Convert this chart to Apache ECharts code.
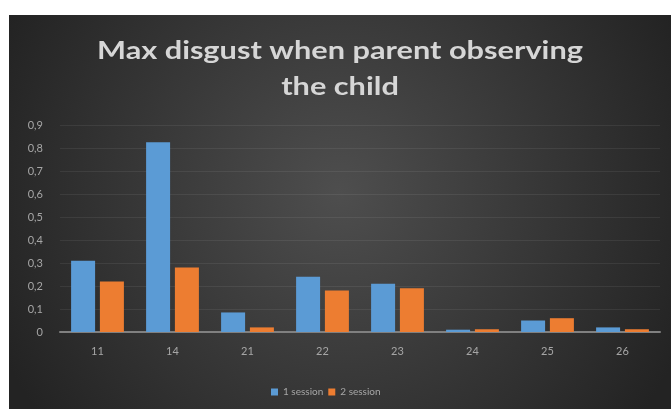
<!DOCTYPE html>
<html>
<head>
<meta charset="utf-8">
<script src="https://cdn.jsdelivr.net/npm/echarts@6/dist/echarts.min.js"></script>
<style>
  html, body { margin: 0; padding: 0; background: #ffffff; }
  #chart { width: 671px; height: 409px; }
</style>
</head>
<body>
<div id="chart"></div>
<script>
// Participants (x axis) and the maximum disgust score per session
const participants = ['11', '14', '21', '22', '23', '24', '25', '26'];
const session1 = [0.31, 0.825, 0.085, 0.24, 0.21, 0.01, 0.05, 0.02];
const session2 = [0.22, 0.28, 0.02, 0.18, 0.19, 0.012, 0.06, 0.012];
const seriesNames = ['1 session', '2 session'];
const yTicks = { min: 0, max: 0.9, step: 0.1 };

const chart = echarts.init(document.getElementById('chart'), null, { renderer: 'canvas' });

const labelFont = 'Lato, "Open Sans", sans-serif';

chart.setOption({
  animation: false,
  backgroundColor: '#ffffff',
  graphic: [
    {
      type: 'rect',
      z: -10,
      silent: true,
      shape: { x: 9, y: 15, width: 662, height: 394 },
      style: {
        fill: {
          type: 'radial', x: 0.5, y: 0.45, r: 0.95,
          colorStops: [
            { offset: 0, color: '#4e4e4e' },
            { offset: 1, color: '#232323' }
          ]
        }
      }
    },
    {
      type: 'text',
      x: 340, y: 33,
      originX: 0,
      scaleX: 1.28,
      z: 10,
      silent: true,
      style: {
        text: 'Max disgust when parent observing\nthe child',
        fill: '#d6d6d6',
        font: 'bold 24px ' + labelFont,
        textAlign: 'center',
        textVerticalAlign: 'top',
        lineHeight: 36
      }
    }
  ],
  legend: {
    data: seriesNames,
    left: 266,
    top: 382,
    itemWidth: 7,
    itemHeight: 7,
    itemGap: 5,
    icon: 'rect',
    textStyle: { color: '#a6a6a6', fontSize: 10, fontFamily: labelFont }
  },
  grid: { left: 60, right: 11, top: 125, bottom: 77, containLabel: false },
  xAxis: {
    type: 'category',
    data: participants,
    axisLine: { lineStyle: { color: '#808080', width: 2 } },
    axisTick: { show: false },
    axisLabel: { color: '#a6a6a6', fontSize: 11, fontFamily: labelFont, margin: 14 }
  },
  yAxis: {
    type: 'value',
    min: yTicks.min,
    max: yTicks.max,
    interval: yTicks.step,
    axisLine: { show: false },
    axisTick: { show: false },
    axisLabel: {
      color: '#a6a6a6', fontSize: 11, fontFamily: labelFont, margin: 17,
      formatter: v => (Math.round(v * 10) / 10).toString().replace('.', ',')
    },
    splitLine: { lineStyle: { color: 'rgba(255,255,255,0.07)', width: 1 } }
  },
  series: [
    {
      name: seriesNames[0], type: 'bar', data: session1,
      barWidth: 24, barGap: '20%',
      itemStyle: { color: '#5b9bd5' }
    },
    {
      name: seriesNames[1], type: 'bar', data: session2,
      barWidth: 24,
      itemStyle: { color: '#ed7d31' }
    }
  ]
});
</script>
</body>
</html>
